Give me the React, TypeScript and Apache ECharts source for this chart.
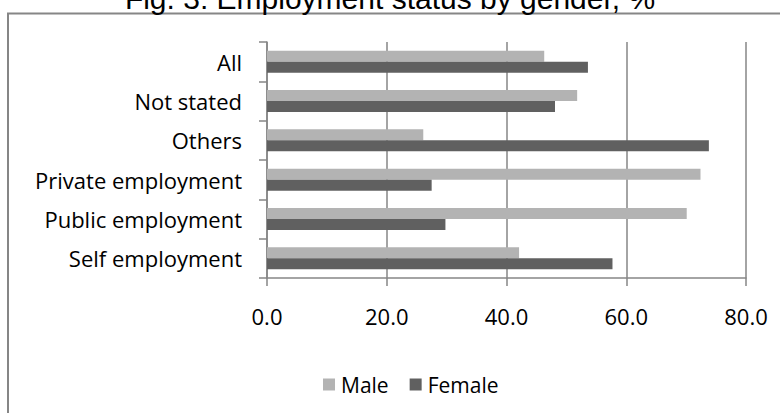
import React, { useEffect, useRef } from "react";
import * as echarts from "echarts";

const categories = [
  "Self employment",
  "Public employment",
  "Private employment",
  "Others",
  "Not stated",
  "All",
];
const maleValues = [42.1, 70.1, 72.4, 26.1, 51.8, 46.3];
const femaleValues = [57.7, 29.8, 27.5, 73.8, 48.1, 53.6];
const seriesNames = ["Male", "Female"];
const titleText = "Fig. 3: Employment status by gender, %";

export default function App() {
  const ref = useRef<HTMLDivElement>(null);
  useEffect(() => {
    if (!ref.current) return;
    const chart = echarts.init(ref.current, null, { renderer: "svg" });
    const axisGrey = "#868686";
    chart.setOption({
      animation: false,
      backgroundColor: "#ffffff",
      graphic: [
        {
          type: "rect",
          shape: { x: 8, y: 13.5, width: 800, height: 420 },
          style: { fill: "none", stroke: axisGrey, lineWidth: 2 },
          z: 0,
        },
        {
          type: "text",
          x: 390,
          y: -1.5,
          style: {
            text: titleText,
            fontFamily: "Liberation Sans",
            fontSize: 30,
            fill: "#000000",
            textAlign: "center",
            textVerticalAlign: "middle",
          },
          z: 10,
        },
      ],
      legend: {
        data: seriesNames,
        left: 318,
        top: 369,
        orient: "horizontal",
        itemWidth: 12,
        itemHeight: 12,
        itemGap: 21,
        icon: "rect",
        textStyle: {
          fontFamily: "Open Sans",
          fontSize: 21,
          color: "#000000",
          padding: [0, 0, 0, 1],
        },
      },
      grid: { left: 267, top: 42, width: 479, height: 236, containLabel: false },
      xAxis: {
        type: "value",
        min: 0,
        max: 80,
        interval: 20,
        axisLine: { show: true, lineStyle: { color: axisGrey, width: 1.5 } },
        axisTick: { show: true, length: 8, lineStyle: { color: axisGrey, width: 1.5 } },
        splitLine: { show: true, lineStyle: { color: axisGrey, width: 1.5 } },
        axisLabel: {
          margin: 27,
          fontFamily: "Open Sans",
          fontSize: 22,
          color: "#000000",
          formatter: (v: number) => v.toFixed(1),
        },
      },
      yAxis: {
        type: "category",
        data: categories,
        axisLine: { show: true, lineStyle: { color: axisGrey, width: 1.5 } },
        axisTick: { show: true, length: 8, lineStyle: { color: axisGrey, width: 1.5 } },
        axisLabel: {
          margin: 25,
          fontFamily: "Open Sans",
          fontSize: 22,
          color: "#000000",
        },
      },
      series: [
        {
          name: seriesNames[0],
          type: "bar",
          data: maleValues,
          barWidth: 11,
          barGap: "0%",
          itemStyle: { color: "#b3b3b3" },
        },
        {
          name: seriesNames[1],
          type: "bar",
          data: femaleValues,
          barWidth: 11,
          barGap: "0%",
          itemStyle: { color: "#606060" },
        },
      ],
    });
    return () => chart.dispose();
  }, []);
  return (
    <div
      ref={ref}
      style={{ position: "fixed", left: 0, top: 0, width: 780, height: 413 }}
    />
  );
}
